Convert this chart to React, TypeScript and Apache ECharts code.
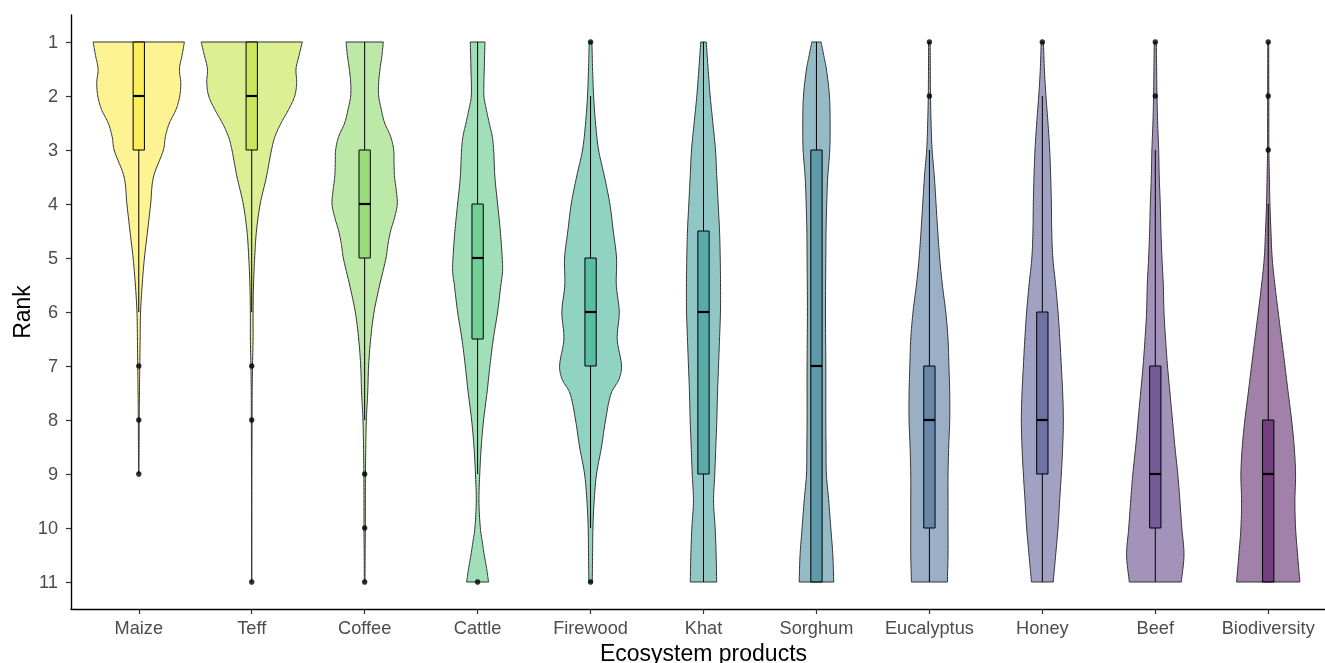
import React, { useEffect, useRef } from 'react';
import * as echarts from 'echarts';

const categories = ['Maize', 'Teff', 'Coffee', 'Cattle', 'Firewood', 'Khat', 'Sorghum', 'Eucalyptus', 'Honey', 'Beef', 'Biodiversity'];
const rankTicks = [1, 2, 3, 4, 5, 6, 7, 8, 9, 10, 11];
const fillColors = ['#FDE725', '#BBDF27', '#7AD151', '#43BF71', '#22A884', '#21908C', '#2A788E', '#35608D', '#414487', '#482576', '#440154'];

// violin half-widths (in category units) at given ranks
const maizeViolin = [[1, .404], [1.25, .383], [1.5, .360], [1.75, .372], [2, .363], [2.25, .330], [2.5, .271], [2.75, .236], [3, .218], [3.5, .13], [4, .105], [4.5, .078], [5, .050], [5.5, .030], [6, .016], [6.5, .012], [7, .009], [7.5, .006], [8, .004], [8.5, .003], [9, .001]];
const teffViolin = [[1, .448], [1.25, .419], [1.5, .392], [1.75, .398], [2, .381], [2.25, .327], [2.5, .260], [2.75, .206], [3, .175], [3.5, .13], [4, .075], [4.5, .042], [5, .026], [5.5, .016], [6, .012], [6.5, .012], [7, .007], [7.5, .004], [8, .0035], [9, .0015], [10, .001], [11, .001]];
const coffeeViolin = [[1, .165], [1.25, .153], [1.5, .136], [1.75, .124], [2, .124], [2.25, .147], [2.5, .177], [2.75, .230], [3, .257], [3.25, .260], [3.5, .265], [3.75, .280], [4, .289], [4.25, .265], [4.5, .230], [4.75, .206], [5, .189], [5.5, .133], [6, .083], [6.5, .053], [7, .035], [7.5, .027], [8, .015], [8.5, .010], [9, .007], [9.5, .006], [10, .006], [10.5, .004], [11, .003]];
const cattleViolin = [[1, .065], [1.5, .059], [2, .056], [2.25, .077], [2.5, .103], [2.75, .130], [3, .142], [3.5, .153], [4, .177], [4.5, .201], [5, .218], [5.25, .221], [5.5, .206], [6, .177], [6.5, .139], [7, .109], [7.5, .083], [8, .053], [8.5, .032], [9, .019], [9.5, .012], [10, .024], [10.25, .041], [10.5, .059], [10.75, .080], [11, .097]];
const firewoodViolin = [[1, .012], [1.25, .015], [1.5, .018], [2, .027], [2.5, .044], [3, .071], [3.5, .124], [4, .171], [4.5, .201], [5, .230], [5.5, .228], [6, .254], [6.5, .236], [7, .274], [7.25, .251], [7.5, .183], [8, .133], [8.5, .097], [9, .053], [9.5, .032], [10, .021], [10.5, .018], [11, .015]];
const khatViolin = [[1, .024], [1.5, .041], [2, .059], [2.5, .083], [3, .106], [3.5, .118], [4, .130], [4.5, .142], [5, .148], [5.5, .151], [6, .150], [6.5, .142], [7, .133], [7.5, .124], [8, .118], [8.5, .109], [9, .100], [9.5, .089], [10, .103], [10.5, .112], [11, .117]];
const sorghumViolin = [[1, .041], [1.25, .065], [1.5, .088], [2, .115], [2.5, .121], [3, .118], [3.5, .100], [4, .091], [4.5, .085], [5, .083], [6, .080], [7, .083], [8, .083], [8.5, .085], [9, .088], [9.5, .109], [10, .127], [10.5, .145], [11, .153]];
const eucalyptusViolin = [[1, .007], [1.5, .008], [2, .010], [2.5, .015], [3, .024], [3.5, .044], [4, .059], [4.5, .074], [5, .091], [5.5, .115], [6, .145], [6.5, .165], [7, .173], [7.5, .180], [8, .180], [8.5, .171], [9, .165], [9.5, .165], [10, .165], [10.5, .165], [11, .159]];
const honeyViolin = [[1, .010], [1.5, .018], [2, .032], [2.5, .050], [3, .065], [3.5, .074], [4, .080], [4.5, .083], [5, .093], [5.5, .118], [6, .139], [6.5, .155], [7, .168], [7.5, .180], [8, .186], [8.5, .180], [9, .168], [9.5, .153], [10, .139], [10.5, .118], [11, .096]];
const beefViolin = [[1, .009], [1.5, .012], [2, .015], [2.5, .021], [3, .030], [3.5, .035], [4, .044], [4.5, .050], [5, .059], [5.5, .071], [6, .077], [6.5, .091], [7, .108], [7.5, .130], [8, .152], [8.5, .174], [9, .199], [9.5, .218], [10, .235], [10.5, .254], [11, .230]];
const biodiversityViolin = [[1, .004], [2, .005], [3, .006], [3.5, .010], [4, .015], [4.5, .024], [5, .035], [5.5, .059], [6, .088], [6.5, .118], [7, .148], [7.5, .177], [8, .207], [8.5, .230], [9, .242], [9.5, .236], [10, .242], [10.5, .260], [11, .280]];

const violins = [maizeViolin, teffViolin, coffeeViolin, cattleViolin, firewoodViolin, khatViolin, sorghumViolin, eucalyptusViolin, honeyViolin, beefViolin, biodiversityViolin];

// box stats per category: [whiskerTop, q1, median, q3, whiskerBottom] (ranks)
const boxStats = [
  [1, 1, 2, 3, 6],
  [1, 1, 2, 3, 6],
  [1, 3, 4, 5, 8],
  [1, 4, 5, 6.5, 9],
  [2, 5, 6, 7, 10],
  [1, 4.5, 6, 9, 11],
  [1, 3, 7, 11, 11],
  [3, 7, 8, 10, 11],
  [2, 6, 8, 9, 11],
  [3, 7, 9, 10, 11],
  [4, 8, 9, 11, 11],
];

// outliers: [categoryIndex, rank]
const outliers = [
  [0, 7], [0, 8], [0, 9],
  [1, 7], [1, 8], [1, 11],
  [2, 9], [2, 10], [2, 11],
  [3, 11],
  [4, 1], [4, 11],
  [7, 1], [7, 2],
  [8, 1],
  [9, 1], [9, 2],
  [10, 1], [10, 2], [10, 3],
];

const FONT = "'Liberation Sans', Arial, Helvetica, sans-serif";

function hexA(hex: string, a: number) {
  const r = parseInt(hex.slice(1, 3), 16), g = parseInt(hex.slice(3, 5), 16), b = parseInt(hex.slice(5, 7), 16);
  return `rgba(${r},${g},${b},${a})`;
}

function smoothProfile(p: number[][]) {
  const n = p.length;
  const tan = p.map((_, i) => {
    if (i === 0) return (p[1][1] - p[0][1]) / (p[1][0] - p[0][0]);
    if (i === n - 1) return (p[n - 1][1] - p[n - 2][1]) / (p[n - 1][0] - p[n - 2][0]);
    return (p[i + 1][1] - p[i - 1][1]) / (p[i + 1][0] - p[i - 1][0]);
  });
  const out: number[][] = [];
  const steps = 10;
  for (let i = 0; i < n - 1; i++) {
    const [r0, w0] = p[i];
    const [r1, w1] = p[i + 1];
    const h = r1 - r0;
    for (let k = 0; k < steps; k++) {
      const t = k / steps;
      const t2 = t * t, t3 = t2 * t;
      const w = (2 * t3 - 3 * t2 + 1) * w0 + (t3 - 2 * t2 + t) * h * tan[i] + (-2 * t3 + 3 * t2) * w1 + (t3 - t2) * h * tan[i + 1];
      out.push([r0 + t * h, Math.max(0, w)]);
    }
  }
  out.push(p[n - 1]);
  return out;
}

export default function App() {
  const ref = useRef<HTMLDivElement>(null);
  useEffect(() => {
    if (!ref.current) return;
    const chart = echarts.init(ref.current, null, { renderer: 'svg' });
    const option = {
      animation: false,
      grid: { left: 71, top: 15, width: 1265, height: 594, containLabel: false, outerBoundsMode: 'none' },
      xAxis: {
        type: 'value',
        min: -0.6,
        max: 10.6,
        name: 'Ecosystem products',
        nameLocation: 'middle',
        nameGap: 31,
        nameTextStyle: { color: '#000', fontSize: 23, fontFamily: FONT },
        axisLine: { show: true, onZero: false, lineStyle: { color: '#000', width: 1.4 } },
        axisTick: { show: true, length: 5, customValues: categories.map((_, i) => i), lineStyle: { color: '#333', width: 1.2 } },
        axisLabel: {
          show: true,
          customValues: categories.map((_, i) => i),
          formatter: (v: number) => categories[Math.round(v)] ?? '',
          color: '#4D4D4D',
          fontSize: 18.2,
          fontFamily: FONT,
          margin: 10,
        },
        splitLine: { show: false },
      },
      yAxis: {
        type: 'value',
        inverse: true,
        min: 0.5,
        max: 11.5,
        name: 'Rank',
        nameLocation: 'middle',
        nameGap: 38,
        nameMoveOverlap: false,
        nameTextStyle: { color: '#000', fontSize: 23, fontFamily: FONT },
        axisLine: { show: true, onZero: false, lineStyle: { color: '#000', width: 1.4 } },
        axisTick: { show: true, length: 5, customValues: rankTicks, lineStyle: { color: '#333', width: 1.2 } },
        axisLabel: {
          show: true,
          customValues: rankTicks,
          color: '#4D4D4D',
          fontSize: 18.2,
          fontFamily: FONT,
          margin: 13,
        },
        splitLine: { show: false },
      },
      series: [
        {
          type: 'custom',
          silent: true,
          z: 1,
          data: categories.map((_, i) => [i, 1]),
          encode: { x: 0, y: 1 },
          renderItem: (params: any, api: any) => {
            const idx = api.value(0);
            const prof = smoothProfile(violins[idx]);
            const right = prof.map(([r, w]) => api.coord([idx + w, r]));
            const left = prof.slice().reverse().map(([r, w]) => api.coord([idx - w, r]));
            return {
              type: 'polygon',
              shape: { points: right.concat(left) },
              style: { fill: hexA(fillColors[idx], 0.5), stroke: '#333', lineWidth: 1 },
            };
          },
        },
        {
          type: 'custom',
          silent: true,
          z: 2,
          data: boxStats.map((b, i) => [i, ...b]),
          encode: { x: 0, y: [1, 2, 3, 4, 5] },
          renderItem: (params: any, api: any) => {
            const idx = api.value(0);
            const wt = api.value(1), q1 = api.value(2), med = api.value(3), q3 = api.value(4), wb = api.value(5);
            const hw = 0.05;
            const pTop = api.coord([idx, wt]);
            const pQ1 = api.coord([idx, q1]);
            const pQ3 = api.coord([idx, q3]);
            const pBot = api.coord([idx, wb]);
            const pL = api.coord([idx - hw, q1]);
            const pR = api.coord([idx + hw, q3]);
            const mL = api.coord([idx - hw, med]);
            const mR = api.coord([idx + hw, med]);
            const children: any[] = [];
            if (wt < q1) children.push({ type: 'line', shape: { x1: pTop[0], y1: pTop[1], x2: pQ1[0], y2: pQ1[1] }, style: { stroke: '#000', lineWidth: 1 } });
            if (wb > q3) children.push({ type: 'line', shape: { x1: pQ3[0], y1: pQ3[1], x2: pBot[0], y2: pBot[1] }, style: { stroke: '#000', lineWidth: 1 } });
            children.push({
              type: 'rect',
              shape: { x: pL[0], y: pL[1], width: pR[0] - pL[0], height: pR[1] - pL[1] },
              style: { fill: hexA(fillColors[idx], 0.5), stroke: '#000', lineWidth: 1 },
            });
            children.push({ type: 'line', shape: { x1: mL[0], y1: mL[1], x2: mR[0], y2: mR[1] }, style: { stroke: '#000', lineWidth: 2.2 } });
            return { type: 'group', children };
          },
        },
        {
          type: 'scatter',
          silent: true,
          z: 3,
          data: outliers,
          symbol: 'circle',
          symbolSize: 5.5,
          itemStyle: { color: '#000' },
        },
      ],
    };
    chart.setOption(option as any);
    return () => chart.dispose();
  }, []);
  return <div ref={ref} style={{ position: 'fixed', left: 0, top: 0, width: 1325, height: 663 }} />;
}
